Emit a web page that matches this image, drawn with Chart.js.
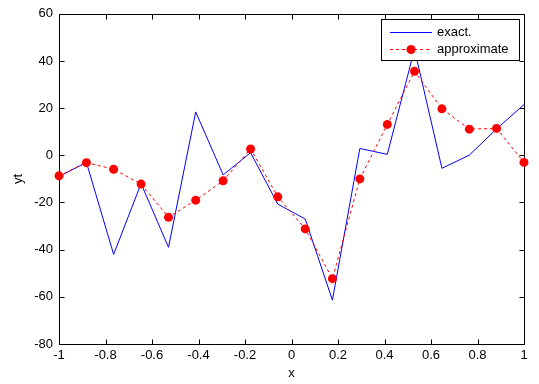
<!DOCTYPE html>
<html>
<head>
<meta charset="utf-8">
<script src="https://cdn.jsdelivr.net/npm/chart.js@4.4.1/dist/chart.umd.min.js"></script>
<style>
	html, body { margin: 0; padding: 0; background: #fff; }
	canvas { display: block; }
</style>
</head>
<body>
<canvas id="chart" width="539" height="384"></canvas>
<script>
// sample positions (18 equally spaced nodes on [-1, 1])
const xNodes = [-1, -0.882, -0.765, -0.647, -0.529, -0.412, -0.294, -0.176, -0.059,
	0.059, 0.176, 0.294, 0.412, 0.529, 0.647, 0.765, 0.882, 1];

const yExact = [-9, -3, -42, -12, -39, 18.4, -8.3, 1.1, -20.7,
	-27, -61.4, 2.9, 0.4, 45, -5.5, 0.1, 11.2, 21.5];

const yApprox = [-8.7, -3.1, -5.9, -12.2, -26.3, -19, -10.8, 2.7, -17.6,
	-31.2, -52.3, -10, 13.1, 35.6, 19.7, 11.1, 11.4, -3];

const xTickStep = 0.2;
const yTickStep = 20;
const xRange = [-1, 1];
const yRange = [-80, 60];

const seriesNames = ['exact.', 'approximate'];
const fontFamily = '"Liberation Sans", Arial, sans-serif';

Chart.defaults.color = '#000';
Chart.defaults.font.family = fontFamily;
Chart.defaults.font.size = 13;

function toPoints(xs, ys) {
	return xs.map((x, i) => ({ x: x, y: ys[i] }));
}

// matlab-like box with inward ticks on all four sides
const boxPlugin = {
	id: 'boxPlugin',
	beforeDatasetsDraw(chart) {
		const { ctx, chartArea: a, scales } = chart;
		const l = Math.round(a.left) + 0.5;
		const r = Math.round(a.right) + 0.5;
		const t = Math.round(a.top) + 0.5;
		const b = Math.round(a.bottom) + 0.5;
		const len = 5;
		ctx.save();
		ctx.strokeStyle = '#000';
		ctx.lineWidth = 1;
		ctx.strokeRect(l, t, r - l, b - t);
		ctx.beginPath();
		scales.x.ticks.forEach((tick) => {
			const px = Math.round(scales.x.getPixelForValue(tick.value)) + 0.5;
			ctx.moveTo(px, b); ctx.lineTo(px, b - len);
			ctx.moveTo(px, t); ctx.lineTo(px, t + len);
		});
		scales.y.ticks.forEach((tick) => {
			const py = Math.round(scales.y.getPixelForValue(tick.value)) + 0.5;
			ctx.moveTo(l, py); ctx.lineTo(l + len, py);
			ctx.moveTo(r, py); ctx.lineTo(r - len, py);
		});
		ctx.stroke();
		ctx.restore();
	}
};

// boxed legend in the upper right corner of the plot
const legendPlugin = {
	id: 'boxLegend',
	afterDatasetsDraw(chart) {
		const { ctx, chartArea: a } = chart;
		const boxRight = Math.round(a.right) - 4.5;
		const boxLeft = 381.5;
		const boxTop = 19.5;
		const rowH = 17;
		const boxBottom = boxTop + 41;
		ctx.save();
		ctx.fillStyle = '#fff';
		ctx.fillRect(boxLeft, boxTop, boxRight - boxLeft, boxBottom - boxTop);
		ctx.strokeStyle = '#000';
		ctx.lineWidth = 1;
		ctx.strokeRect(boxLeft, boxTop, boxRight - boxLeft, boxBottom - boxTop);

		chart.data.datasets.forEach((ds, i) => {
			const y = Math.round(boxTop + 12 + i * rowH) + 0.5;
			const x0 = 390, x1 = 432;
			ctx.strokeStyle = ds.borderColor;
			ctx.lineWidth = ds.borderWidth;
			ctx.setLineDash(ds.borderDash || []);
			ctx.beginPath();
			ctx.moveTo(x0, y);
			ctx.lineTo(x1, y);
			ctx.stroke();
			ctx.setLineDash([]);
			if (ds.pointRadius > 0) {
				ctx.fillStyle = ds.pointBackgroundColor;
				ctx.beginPath();
				ctx.arc((x0 + x1) / 2, y, ds.pointRadius, 0, Math.PI * 2);
				ctx.fill();
			}
			ctx.fillStyle = '#000';
			ctx.font = '13px ' + fontFamily;
			ctx.textBaseline = 'middle';
			ctx.textAlign = 'left';
			ctx.fillText(ds.label, 437, y);
		});
		ctx.restore();
	}
};

new Chart(document.getElementById('chart'), {
	type: 'line',
	data: {
		datasets: [
			{
				label: seriesNames[0],
				data: toPoints(xNodes, yExact),
				borderColor: '#0000ff',
				borderWidth: 1,
				pointRadius: 0,
				tension: 0,
				order: 1
			},
			{
				label: seriesNames[1],
				data: toPoints(xNodes, yApprox),
				borderColor: '#ff0000',
				borderWidth: 1,
				borderDash: [3, 3],
				pointRadius: 4.5,
				pointBackgroundColor: '#ff0000',
				pointBorderColor: '#ff0000',
				pointBorderWidth: 0,
				tension: 0,
				clip: false,
				order: 0
			}
		]
	},
	options: {
		responsive: false,
		animation: false,
		events: [],
		layout: {
			padding: { left: 0, right: 15, top: 12, bottom: 0 }
		},
		plugins: {
			legend: { display: false },
			tooltip: { enabled: false }
		},
		scales: {
			x: {
				type: 'linear',
				min: xRange[0],
				max: xRange[1],
				grid: { display: false, drawTicks: false },
				border: { display: false },
				ticks: {
					stepSize: xTickStep,
					padding: 4,
					maxRotation: 0,
					callback: (v) => String(Math.round(v * 10) / 10)
				},
				title: {
					display: true,
					text: 'x',
					padding: { top: 0, bottom: 3 }
				},
				afterFit: (scale) => { scale.height = 40; }
			},
			y: {
				type: 'linear',
				min: yRange[0],
				max: yRange[1],
				grid: { display: false, drawTicks: false },
				border: { display: false },
				ticks: {
					stepSize: yTickStep,
					padding: 6
				},
				title: {
					display: true,
					text: 'yt',
					padding: { top: 11, bottom: 0 }
				},
				afterFit: (scale) => { scale.width = 59; }
			}
		}
	},
	plugins: [boxPlugin, legendPlugin]
});
</script>
</body>
</html>
